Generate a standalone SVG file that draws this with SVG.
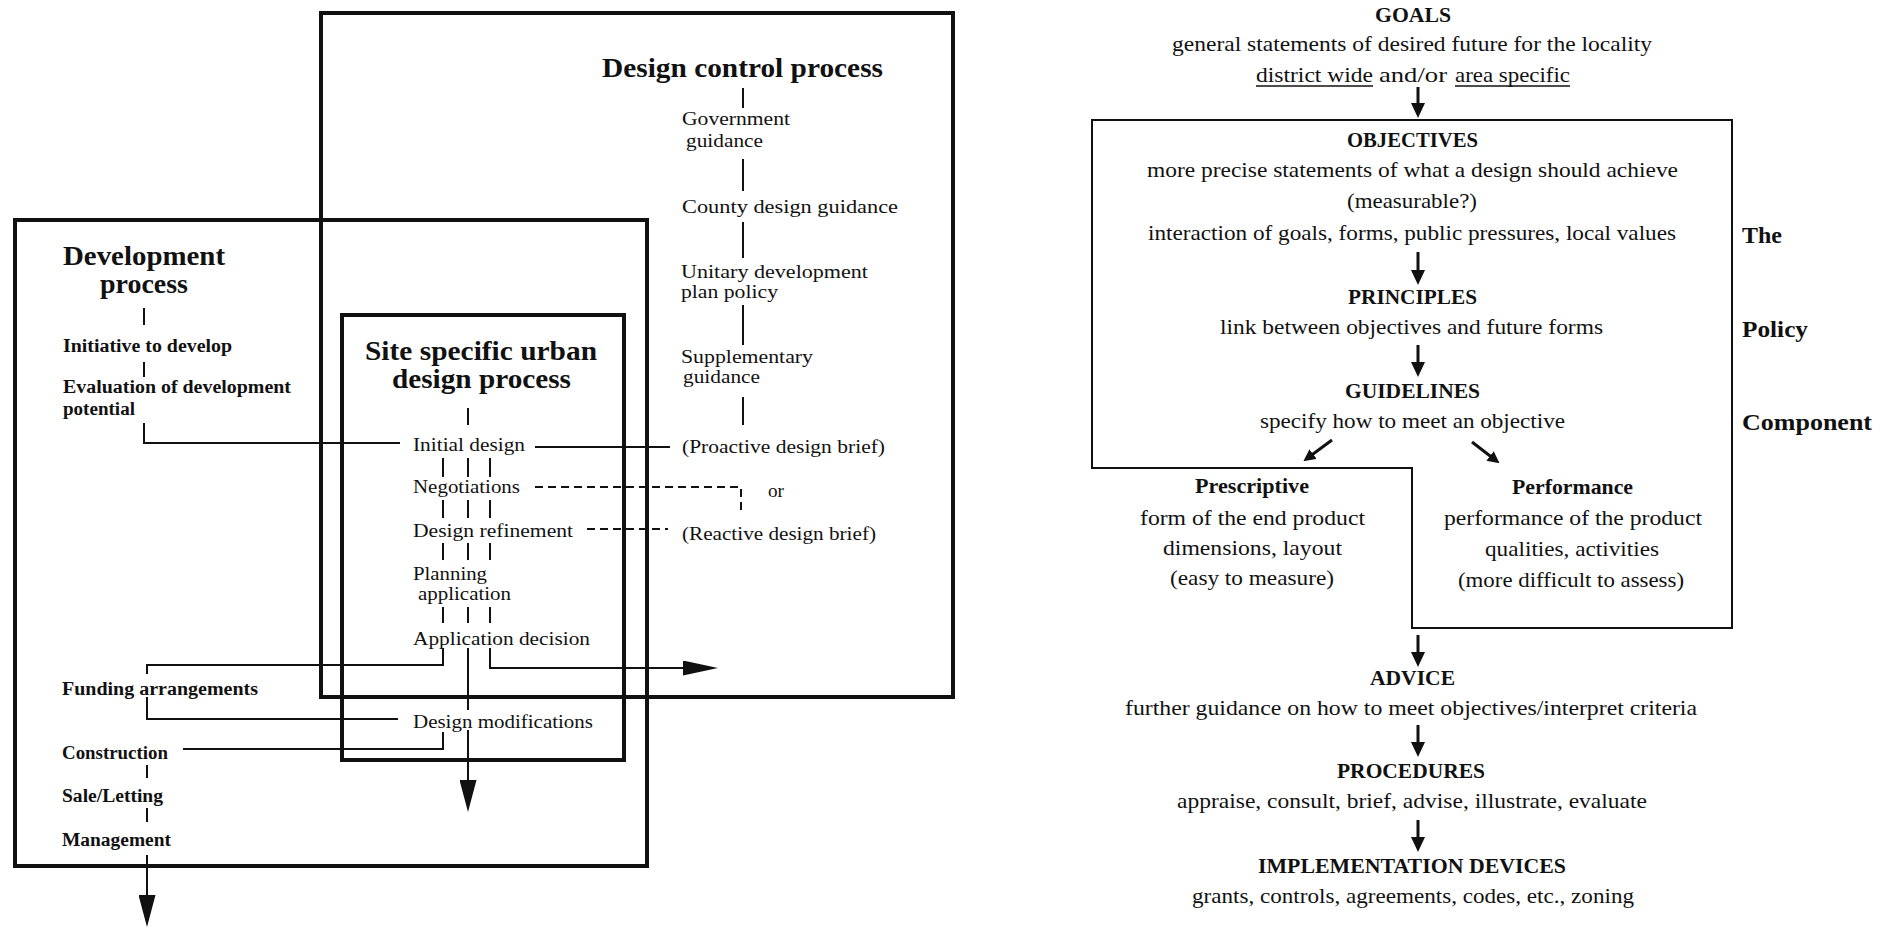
<svg xmlns="http://www.w3.org/2000/svg" width="1890" height="928" viewBox="0 0 1890 928">
<defs>
<style>
text{font-family:"Liberation Serif","Times New Roman",serif;fill:#111}
.lbl{font-size:18px}
.lblb{font-size:18px;font-weight:bold}
.ttl{font-size:27px;font-weight:bold}
.rb{font-size:21px}
.rh{font-size:21px;font-weight:bold}
.side{font-size:24px;font-weight:bold}
.box{fill:none;stroke:#111;stroke-width:4}
.pbox{fill:none;stroke:#111;stroke-width:2}
.c{fill:none;stroke:#111;stroke-width:2}
.d{fill:none;stroke:#111;stroke-width:2;stroke-dasharray:8 5}
.ra{fill:none;stroke:#111;stroke-width:3}
.ul{stroke:#111;stroke-width:1.5}
</style>
<marker id="bigDown" viewBox="0 0 32 17" refX="16" refY="8.5" markerWidth="32" markerHeight="17" markerUnits="userSpaceOnUse" orient="auto"><path d="M0,0 L32,8.5 L0,17 Z" fill="#111"/></marker>
<marker id="bigRight" viewBox="0 0 35 15" refX="17" refY="7.5" markerWidth="35" markerHeight="15" markerUnits="userSpaceOnUse" orient="auto"><path d="M0,0 L35,7.5 L0,15 Z" fill="#111"/></marker>
<marker id="small" viewBox="0 0 15 14" refX="7" refY="7" markerWidth="15" markerHeight="14" markerUnits="userSpaceOnUse" orient="auto"><path d="M0,0 L15,7 L0,14 Z" fill="#111"/></marker>
<marker id="smallD" viewBox="0 0 12 12" refX="5" refY="6" markerWidth="12" markerHeight="12" markerUnits="userSpaceOnUse" orient="auto"><path d="M0,0 L12,6 L0,12 Z" fill="#111"/></marker>
</defs>
<rect x="0" y="0" width="1890" height="928" fill="#fff"/>

<!-- LEFT DIAGRAM: containers -->
<g id="design-control-process">
<rect class="box" x="321" y="13" width="632" height="684"/>
<text class="ttl" x="602" y="77" textLength="281" lengthAdjust="spacingAndGlyphs">Design control process</text>
</g>
<g id="development-process">
<rect class="box" x="15" y="220" width="632" height="646"/>
<text class="ttl" x="63" y="265" textLength="162" lengthAdjust="spacingAndGlyphs">Development</text>
<text class="ttl" x="100" y="293" textLength="88" lengthAdjust="spacingAndGlyphs">process</text>
</g>
<g id="site-specific-process">
<rect class="box" x="342" y="315" width="282" height="445"/>
<text class="ttl" x="365" y="360" textLength="232" lengthAdjust="spacingAndGlyphs">Site specific urban</text>
<text class="ttl" x="392" y="388" textLength="179" lengthAdjust="spacingAndGlyphs">design process</text>
</g>

<!-- development process steps -->
<g id="initiative"><text class="lblb" x="63" y="352" textLength="169" lengthAdjust="spacingAndGlyphs">Initiative to develop</text></g>
<g id="evaluation"><text class="lblb" x="63" y="393" textLength="228" lengthAdjust="spacingAndGlyphs">Evaluation of development</text><text class="lblb" x="63" y="415" textLength="72" lengthAdjust="spacingAndGlyphs">potential</text></g>
<g id="funding"><text class="lblb" x="62" y="695" textLength="196" lengthAdjust="spacingAndGlyphs">Funding arrangements</text></g>
<g id="construction"><text class="lblb" x="62" y="759" textLength="106" lengthAdjust="spacingAndGlyphs">Construction</text></g>
<g id="sale-letting"><text class="lblb" x="62" y="802" textLength="101" lengthAdjust="spacingAndGlyphs">Sale/Letting</text></g>
<g id="management"><text class="lblb" x="62" y="846" textLength="109" lengthAdjust="spacingAndGlyphs">Management</text></g>

<!-- site specific steps -->
<g id="initial-design"><text class="lbl" x="413" y="451" textLength="112" lengthAdjust="spacingAndGlyphs">Initial design</text></g>
<g id="negotiations"><text class="lbl" x="413" y="493" textLength="107" lengthAdjust="spacingAndGlyphs">Negotiations</text></g>
<g id="design-refinement"><text class="lbl" x="413" y="537" textLength="160" lengthAdjust="spacingAndGlyphs">Design refinement</text></g>
<g id="planning-application"><text class="lbl" x="413" y="580" textLength="74" lengthAdjust="spacingAndGlyphs">Planning</text><text class="lbl" x="418" y="600" textLength="93" lengthAdjust="spacingAndGlyphs">application</text></g>
<g id="application-decision"><text class="lbl" x="413" y="645" textLength="177" lengthAdjust="spacingAndGlyphs">Application decision</text></g>
<g id="design-modifications"><text class="lbl" x="413" y="728" textLength="180" lengthAdjust="spacingAndGlyphs">Design modifications</text></g>

<!-- design control steps -->
<g id="government-guidance"><text class="lbl" x="682" y="125" textLength="108" lengthAdjust="spacingAndGlyphs">Government</text><text class="lbl" x="686" y="147" textLength="77" lengthAdjust="spacingAndGlyphs">guidance</text></g>
<g id="county-guidance"><text class="lbl" x="682" y="213" textLength="216" lengthAdjust="spacingAndGlyphs">County design guidance</text></g>
<g id="udp-policy"><text class="lbl" x="681" y="278" textLength="187" lengthAdjust="spacingAndGlyphs">Unitary development</text><text class="lbl" x="681" y="298" textLength="97" lengthAdjust="spacingAndGlyphs">plan policy</text></g>
<g id="supplementary-guidance"><text class="lbl" x="681" y="363" textLength="132" lengthAdjust="spacingAndGlyphs">Supplementary</text><text class="lbl" x="683" y="383" textLength="77" lengthAdjust="spacingAndGlyphs">guidance</text></g>
<g id="proactive-brief"><text class="lbl" x="682" y="453" textLength="203" lengthAdjust="spacingAndGlyphs">(Proactive design brief)</text></g>
<g id="or-label"><text class="lbl" x="768" y="497" textLength="16" lengthAdjust="spacingAndGlyphs">or</text></g>
<g id="reactive-brief"><text class="lbl" x="682" y="540" textLength="194" lengthAdjust="spacingAndGlyphs">(Reactive design brief)</text></g>

<!-- RIGHT DIAGRAM -->
<g id="policy-component-box">
<path class="pbox" d="M1092,120 H1732 V628 H1412 V468 H1092 Z"/>
<text class="side" x="1742" y="243" textLength="40" lengthAdjust="spacingAndGlyphs">The</text>
<text class="side" x="1742" y="337" textLength="66" lengthAdjust="spacingAndGlyphs">Policy</text>
<text class="side" x="1742" y="430" textLength="130" lengthAdjust="spacingAndGlyphs">Component</text>
</g>
<g id="goals">
<text class="rh" x="1375" y="22" textLength="76" lengthAdjust="spacingAndGlyphs">GOALS</text>
<text class="rb" x="1172" y="51" textLength="480" lengthAdjust="spacingAndGlyphs">general statements of desired future for the locality</text>
<text class="rb" x="1256" y="82" textLength="117" lengthAdjust="spacingAndGlyphs">district wide</text>
<text class="rb" x="1379" y="82" textLength="68" lengthAdjust="spacingAndGlyphs">and/or</text>
<text class="rb" x="1455" y="82" textLength="115" lengthAdjust="spacingAndGlyphs">area specific</text>
<line class="ul" x1="1256" y1="86" x2="1373" y2="86"/>
<line class="ul" x1="1455" y1="86" x2="1570" y2="86"/>
</g>
<g id="objectives">
<text class="rh" x="1347" y="147" textLength="131" lengthAdjust="spacingAndGlyphs">OBJECTIVES</text>
<text class="rb" x="1147" y="177" textLength="531" lengthAdjust="spacingAndGlyphs">more precise statements of what a design should achieve</text>
<text class="rb" x="1347" y="208" textLength="130" lengthAdjust="spacingAndGlyphs">(measurable?)</text>
<text class="rb" x="1148" y="240" textLength="528" lengthAdjust="spacingAndGlyphs">interaction of goals, forms, public pressures, local values</text>
</g>
<g id="principles">
<text class="rh" x="1348" y="304" textLength="129" lengthAdjust="spacingAndGlyphs">PRINCIPLES</text>
<text class="rb" x="1220" y="334" textLength="383" lengthAdjust="spacingAndGlyphs">link between objectives and future forms</text>
</g>
<g id="guidelines">
<text class="rh" x="1345" y="398" textLength="135" lengthAdjust="spacingAndGlyphs">GUIDELINES</text>
<text class="rb" x="1260" y="428" textLength="305" lengthAdjust="spacingAndGlyphs">specify how to meet an objective</text>
</g>
<g id="prescriptive">
<text class="rh" x="1195" y="493" textLength="114" lengthAdjust="spacingAndGlyphs">Prescriptive</text>
<text class="rb" x="1140" y="525" textLength="225" lengthAdjust="spacingAndGlyphs">form of the end product</text>
<text class="rb" x="1163" y="555" textLength="179" lengthAdjust="spacingAndGlyphs">dimensions, layout</text>
<text class="rb" x="1170" y="585" textLength="164" lengthAdjust="spacingAndGlyphs">(easy to measure)</text>
</g>
<g id="performance">
<text class="rh" x="1512" y="494" textLength="121" lengthAdjust="spacingAndGlyphs">Performance</text>
<text class="rb" x="1444" y="525" textLength="258" lengthAdjust="spacingAndGlyphs">performance of the product</text>
<text class="rb" x="1485" y="556" textLength="174" lengthAdjust="spacingAndGlyphs">qualities, activities</text>
<text class="rb" x="1458" y="587" textLength="226" lengthAdjust="spacingAndGlyphs">(more difficult to assess)</text>
</g>
<g id="advice">
<text class="rh" x="1370" y="685" textLength="85" lengthAdjust="spacingAndGlyphs">ADVICE</text>
<text class="rb" x="1125" y="715" textLength="572" lengthAdjust="spacingAndGlyphs">further guidance on how to meet objectives/interpret criteria</text>
</g>
<g id="procedures">
<text class="rh" x="1337" y="778" textLength="148" lengthAdjust="spacingAndGlyphs">PROCEDURES</text>
<text class="rb" x="1177" y="808" textLength="470" lengthAdjust="spacingAndGlyphs">appraise, consult, brief, advise, illustrate, evaluate</text>
</g>
<g id="implementation-devices">
<text class="rh" x="1258" y="873" textLength="308" lengthAdjust="spacingAndGlyphs">IMPLEMENTATION DEVICES</text>
<text class="rb" x="1192" y="903" textLength="442" lengthAdjust="spacingAndGlyphs">grants, controls, agreements, codes, etc., zoning</text>
</g>

<!-- CONNECTORS -->
<g id="connectors">
<!-- development process -->
<path class="c" d="M144,308 V325"/>
<path class="c" d="M144,362 V377"/>
<path class="c" d="M144,423 V443 H400"/>
<path class="c" d="M443,648 V665 H147 V674"/>
<path class="c" d="M147,697 V719 H398"/>
<path class="c" d="M443,732 V749 H183"/>
<path class="c" d="M147,765 V778"/>
<path class="c" d="M147,808 V822"/>
<path class="c" d="M147,855 V911" marker-end="url(#bigDown)"/>
<!-- site specific -->
<path class="c" d="M468,408 V425"/>
<path class="c" d="M535,447 H670"/>
<path class="c" d="M443,458 V477 M468,458 V477 M490,458 V477"/>
<path class="c" d="M443,500 V518 M468,500 V518 M490,500 V518"/>
<path class="c" d="M443,543 V560 M468,543 V560 M490,543 V560"/>
<path class="c" d="M443,607 V623 M468,607 V623 M490,607 V623"/>
<path class="d" d="M535,487 H741 V510"/>
<path class="d" d="M587,529 H668"/>
<path class="c" d="M468,648 V710"/>
<path class="c" d="M468,730 V796" marker-end="url(#bigDown)"/>
<path class="c" d="M490,648 V668 H700" marker-end="url(#bigRight)"/>
<!-- design control -->
<path class="c" d="M743,88 V108 M743,159 V191 M743,222 V258 M743,305 V345 M743,397 V425"/>
<!-- policy diagram -->
<path class="ra" d="M1418,87 V110" marker-end="url(#small)"/>
<path class="ra" d="M1418,252 V277" marker-end="url(#small)"/>
<path class="ra" d="M1418,345 V369" marker-end="url(#small)"/>
<path class="ra" d="M1332,440 L1309,457" marker-end="url(#smallD)"/>
<path class="ra" d="M1472,442 L1494,459" marker-end="url(#smallD)"/>
<path class="ra" d="M1418,635 V659" marker-end="url(#small)"/>
<path class="ra" d="M1418,725 V749" marker-end="url(#small)"/>
<path class="ra" d="M1418,820 V844" marker-end="url(#small)"/>
</g>
</svg>
